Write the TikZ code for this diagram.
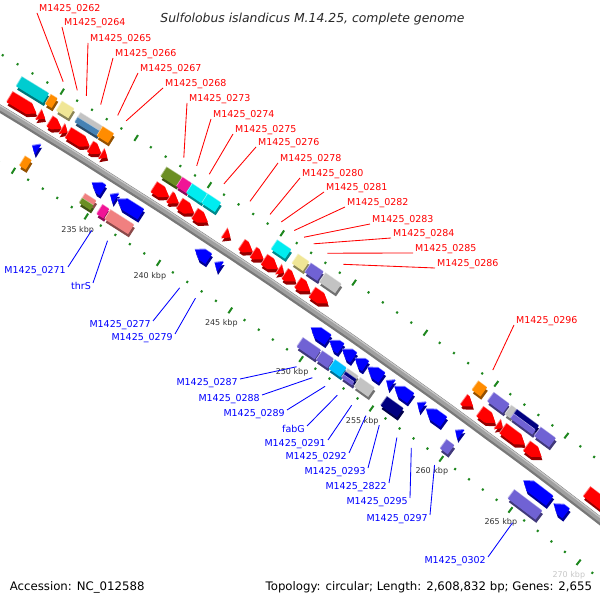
\documentclass[tikz,border=0pt]{standalone}
\usepackage{fontspec}
\setmainfont{DejaVu Sans}
\usetikzlibrary{calc}
\definecolor{gred}{RGB}{255,0,0}
\definecolor{gblue}{RGB}{0,0,255}
\definecolor{ccyan}{RGB}{0,204,208}
\definecolor{ccyanb}{RGB}{0,236,240}
\definecolor{corange}{RGB}{255,140,0}
\definecolor{ckhaki}{RGB}{240,230,150}
\definecolor{csteel}{RGB}{70,130,180}
\definecolor{csilver}{RGB}{195,195,195}
\definecolor{colive}{RGB}{107,142,35}
\definecolor{cpink}{RGB}{240,20,150}
\definecolor{cslate}{RGB}{112,98,212}
\definecolor{cnavy}{RGB}{0,0,128}
\definecolor{csky}{RGB}{0,191,255}
\definecolor{csalmon}{RGB}{240,128,128}
\definecolor{tickg}{RGB}{30,135,30}
\definecolor{kbpc}{RGB}{51,51,51}
\pgfmathdeclarefunction{gang}{1}{\pgfmathparse{58.34-0.1527*(#1-230)}}
\newcommand\gsolid[2]{%
  \fill[#1!58!black,shift={(0.8,-3.2)}] #2;%
  \fill[#1!50!white,shift={(-0.4,1)}] #2;%
  \fill[#1] #2;%
}
\newcommand\fgene[3][gred]{%
  \pgfmathsetmacro\gA{gang(#2)}%
  \pgfmathsetmacro\gB{gang(#3)}%
  \pgfmathsetmacro\gH{gang(max(#2,#3-0.5))}%
  \gsolid{#1}{(\gA:6521) -- (\gH:6521) -- (\gB:6515) -- (\gH:6509) -- (\gA:6509) -- cycle}%
}
\newcommand\rgene[3][gblue]{%
  \pgfmathsetmacro\gA{gang(#2)}%
  \pgfmathsetmacro\gB{gang(#3)}%
  \pgfmathsetmacro\gH{gang(min(#3,#2+0.5))}%
  \gsolid{#1}{(\gB:6491) -- (\gH:6491) -- (\gA:6485) -- (\gH:6479) -- (\gB:6479) -- cycle}%
}
\newcommand\cog[5]{%
  \pgfmathsetmacro\gA{gang(#1)}%
  \pgfmathsetmacro\gB{gang(#2)}%
  \gsolid{#5}{(\gA:#3) -- (\gA:#4) -- (\gB:#4) -- (\gB:#3) -- cycle}%
}
\newcommand\fcog[3]{\cog{#1}{#2}{6527.5}{6538.5}{#3}}
\newcommand\rcog[3]{\cog{#1}{#2}{6461.5}{6472.5}{#3}}
\tikzset{
  flab/.style={anchor=base west,inner sep=0pt,text=gred,font=\fontsize{9.5}{11}\selectfont},
  rlab/.style={anchor=base east,inner sep=0pt,text=gblue,font=\fontsize{9.5}{11}\selectfont},
  fline/.style={draw=gred,line width=0.85pt},
  rline/.style={draw=gblue,line width=0.85pt},
  tickmark/.style={draw=tickg,line width=2pt},
  kbpl/.style={inner sep=0pt,text=kbpc,font=\fontsize{8}{9}\selectfont},
  foot/.style={inner sep=0pt,font=\fontsize{11.75}{13}\selectfont}
}
\newcommand\flabel[5]{%
  \path[shift={(-3374,-5064)}] ({gang(#4)}:6556) coordinate (g#1);
  \node[flab] (l#1) at (#2+2,601-#3) {#5};
  \draw[fline] (g#1) -- ([xshift=-2pt,yshift=-1pt]l#1.base west);
}
\newcommand\rlabel[5]{%
  \path[shift={(-3374,-5064)}] ({gang(#4)}:6445) coordinate (g#1);
  \node[rlab] (l#1) at (#2-2,593-#3) {#5};
  \draw[rline] (g#1) -- ([xshift=2pt,yshift=7pt]l#1.base east);
}
\begin{document}
\begin{tikzpicture}[x=1pt,y=1pt]
\useasboundingbox (0,0) rectangle (600,600);
\fill[white] (0,0) rectangle (600,600);
\clip (0,0) rectangle (600,600);
\begin{scope}[shift={(-3374,-5064)}]
  % backbone
  \draw[line width=7.5pt,color={rgb,255:red,120;green,120;blue,120}] plot[domain=222:277,samples=40] ({gang(\x)}:6500);
  \draw[line width=4.5pt,color={rgb,255:red,160;green,160;blue,160}] plot[domain=222:277,samples=40] ({gang(\x)}:6500.8);
  \draw[line width=1.2pt,color={rgb,255:red,200;green,200;blue,200}] plot[domain=222:277,samples=40] ({gang(\x)}:6502.7);
  % ticks
  \foreach \k in {222,...,276}{%
    \pgfmathsetmacro\tka{gang(\k)}%
    \pgfmathsetmacro\tl{mod(\k,5)==0 ? 3.4 : 1.1}%
    \draw[tickmark] ({\tka}:{6547-\tl}) -- ({\tka}:{6547+\tl});
    \draw[tickmark] ({\tka}:{6454-\tl}) -- ({\tka}:{6454+\tl});
  }
  \foreach \k in {235,240,...,265}{\node[kbpl] at ({gang(\k)}:6438) {\k\ kbp};}
  \node[kbpl,text={rgb,255:red,200;green,200;blue,200}] at ({gang(270)}:6438) {270 kbp};
  % forward strand
  \fcog{227.6}{229.4}{ccyan}\fgene{227.6}{229.4}
  \fcog{229.55}{229.98}{corange}\fgene{229.55}{229.98}
  \fcog{230.3}{231.1}{ckhaki}\fgene{230.3}{231.1}
  \fgene{231.12}{231.5}
  \cog{231.55}{233.0}{6533}{6538.5}{csilver}\cog{231.55}{233.0}{6527.5}{6533}{csteel}\fgene{231.55}{233.0}
  \fcog{233.05}{233.8}{corange}\fgene{233.05}{233.8}
  \fgene{233.82}{234.2}
  \fcog{237.4}{238.42}{colive}\fgene{237.4}{238.42}
  \fcog{238.47}{239.1}{cpink}\fgene{238.47}{239.1}
  \fcog{239.15}{240.15}{ccyanb}\fgene{239.15}{240.15}
  \fcog{240.2}{241.1}{ccyanb}\fgene{240.2}{241.1}
  \fgene{242.25}{242.65}
  \fgene{243.45}{244.2}
  \fgene{244.25}{244.95}
  \fcog{245.0}{245.95}{ccyanb}\fgene{245.0}{245.95}
  \fgene{246.0}{246.35}
  \fcog{246.45}{247.2}{ckhaki}\fgene{246.45}{247.2}
  \fcog{247.35}{248.2}{cslate}\fgene{247.35}{248.2}
  \fcog{248.35}{249.45}{csilver}\fgene{248.35}{249.45}
  \fcog{259.1}{259.7}{corange}\fgene{259.05}{259.7}
  \fcog{260.2}{261.3}{cslate}\fgene{260.2}{261.3}
  \fcog{261.45}{261.8}{csilver}\fgene{261.45}{261.8}
  \cog{261.85}{263.4}{6533}{6538.5}{cnavy}\cog{261.85}{263.4}{6527.5}{6533}{cslate}\fgene{261.85}{263.4}
  \fcog{263.55}{264.6}{cslate}\fgene{263.55}{264.6}
  \fgene{267.9}{270.5}
  % reverse strand
  \rgene{226.0}{227.55}
  \rcog{230.15}{230.58}{corange}\rgene{230.18}{230.58}
  \cog{234.25}{235.0}{6467}{6472.5}{csalmon}\cog{234.25}{235.0}{6461.5}{6467}{colive}\rgene{234.25}{235.0}
  \rcog{235.45}{235.9}{cpink}\rgene{235.5}{235.9}
  \rcog{236.0}{237.6}{csalmon}\rgene{236.0}{237.6}
  \rgene{241.35}{242.3}
  \rgene{242.72}{243.12}
  \rcog{249.4}{250.65}{cslate}\rgene{249.45}{250.65}
  \rcog{250.75}{251.55}{cslate}\rgene{250.75}{251.55}
  \rcog{251.65}{252.45}{csky}\rgene{251.65}{252.45}
  \cog{252.55}{253.3}{6468.8}{6472.5}{csilver}\cog{252.55}{253.3}{6465.2}{6468.8}{cnavy}\cog{252.55}{253.3}{6461.5}{6465.2}{cslate}\rgene{252.55}{253.3}
  \rcog{253.45}{254.45}{csilver}\rgene{253.45}{254.45}
  \rgene{254.78}{255.18}
  \rcog{255.35}{256.5}{cnavy}\rgene{255.35}{256.5}
  \rgene{256.98}{257.38}
  \rgene{257.6}{258.85}
  \rcog{259.6}{260.15}{cslate}\rgene{259.7}{260.1}
  \rcog{264.5}{266.5}{cslate}\rgene{264.6}{266.5}
  \rgene{266.8}{267.7}
\end{scope}
% forward labels
\flabel{a262}{37}{13}{229.75}{M1425\_0262}
\flabel{a264}{62}{27}{230.7}{M1425\_0264}
\flabel{a265}{88}{43}{231.3}{M1425\_0265}
\flabel{a266}{113}{58}{232.27}{M1425\_0266}
\flabel{a267}{138}{73}{233.42}{M1425\_0267}
\flabel{a268}{163}{88}{234.0}{M1425\_0268}
\flabel{a273}{187}{103}{237.91}{M1425\_0273}
\flabel{a274}{211}{119}{238.78}{M1425\_0274}
\flabel{a275}{233}{134}{239.65}{M1425\_0275}
\flabel{a276}{256}{147}{240.65}{M1425\_0276}
\flabel{a278}{278}{163}{242.45}{M1425\_0278}
\flabel{a280}{300}{178}{243.82}{M1425\_0280}
\flabel{a281}{324}{192}{244.6}{M1425\_0281}
\flabel{a282}{345}{207}{245.48}{M1425\_0282}
\flabel{a283}{370}{224}{246.17}{M1425\_0283}
\flabel{a284}{391}{238}{246.83}{M1425\_0284}
\flabel{a285}{413}{253}{247.78}{M1425\_0285}
\flabel{a286}{435}{268}{248.9}{M1425\_0286}
\flabel{a296}{514}{325}{259.38}{M1425\_0296}
% reverse labels
\rlabel{b271}{68}{267}{235.7}{M1425\_0271}
\rlabel{bthrS}{93}{283}{236.8}{thrS}
\rlabel{b277}{153}{321}{241.82}{M1425\_0277}
\rlabel{b279}{175}{334}{242.92}{M1425\_0279}
\rlabel{b287}{240}{379}{250.03}{M1425\_0287}
\rlabel{b288}{262}{395}{251.15}{M1425\_0288}
\rlabel{b289}{287}{410}{252.05}{M1425\_0289}
\rlabel{bfabG}{307}{426}{252.93}{fabG}
\rlabel{b291}{328}{440}{253.95}{M1425\_0291}
\rlabel{b292}{349}{453}{254.98}{M1425\_0292}
\rlabel{b293}{368}{468}{255.93}{M1425\_0293}
\rlabel{b2822}{389}{483}{257.18}{M1425\_2822}
\rlabel{b295}{410}{498}{258.22}{M1425\_0295}
\rlabel{b297}{430}{515}{259.9}{M1425\_0297}
\rlabel{b302}{488}{557}{265.55}{M1425\_0302}
% title and footer
\node[anchor=base,inner sep=0pt,text={rgb,255:red,40;green,40;blue,40},font=\itshape\fontsize{12.4}{14}\selectfont] (title) at (312.5,577.5) {Sulfolobus islandicus M.14.25, complete genome};
\node[foot,anchor=base west] (acc) at (9.6,9.5) {Accession: NC\_012588};
\node[foot,anchor=base east] (topo) at (592.3,9.5) {Topology: circular; Length: 2,608,832 bp; Genes: 2,655};
\end{tikzpicture}
\end{document}
